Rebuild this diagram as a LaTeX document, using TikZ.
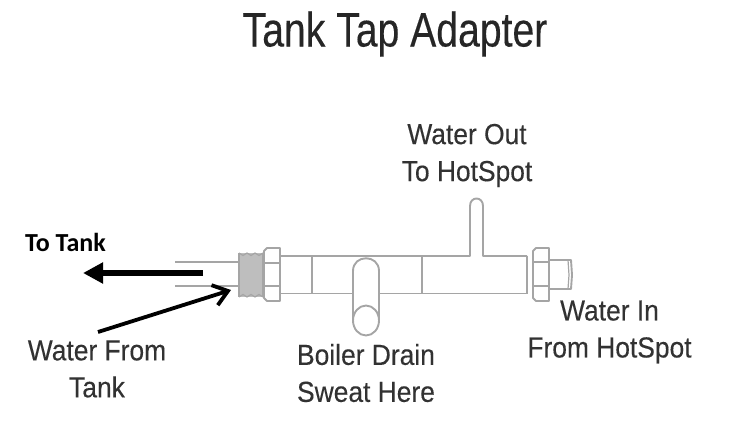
\documentclass[tikz,border=0pt]{standalone}
\usepackage{fontspec}
\setmainfont[FakeBold=0.25]{Liberation Sans}
\newfontfamily\boldlabel{Carlito}
\usetikzlibrary{arrows.meta}
\definecolor{pipe}{RGB}{165,165,165}
\definecolor{ink}{RGB}{50,50,50}
\definecolor{threadfill}{RGB}{190,190,190}
\tikzset{
  pipeline/.style={draw=pipe,line width=1.9pt,line join=round},
  lab/.style={text=ink,align=center,inner sep=0pt,font=\fontsize{29}{37}\selectfont,xscale=0.91},
  blackarrow/.style={draw=black,line width=6pt,-{Triangle[length=20pt,width=20pt]}},
  thinarrow/.style={draw=black,line width=3.8pt,-{Straight Barb[length=14pt,width=21pt,line width=3.8pt]}}
}
\begin{document}
\begin{tikzpicture}[x=1pt,y=-1pt]
\useasboundingbox (0,0) rectangle (735,436);
% left pipe
\draw[pipeline] (175,262) -- (239,262) (175,286) -- (239,286);
% thread
\path[fill=threadfill] (239,253) rectangle (263,297);
\draw[pipeline] (239,253) -- (239,297) (263,253) -- (263,297);
\draw[pipeline,line width=1.2pt] (239,253) -- (243,255.5) -- (247,253) -- (251,255.5) -- (255,253) -- (259,255.5) -- (263,253);
\draw[pipeline,line width=1.2pt] (239,297) -- (243,294.5) -- (247,297) -- (251,294.5) -- (255,297) -- (259,294.5) -- (263,297);
% left nut
\draw[pipeline] (267,248) -- (280,248) -- (280,301) -- (267,301) -- (264,298) -- (264,251) -- cycle;
\draw[pipeline] (264,263) -- (280,263) (264,286) -- (280,286);
% body with outlet
\draw[pipeline] (280,256) -- (470,256) -- (470,206)
  .. controls (470,196) and (483,196) .. (483,206) -- (483,256) -- (527,256);
\draw[pipeline] (280,293.5) -- (353,293.5) (379,293.5) -- (527,293.5);
\draw[pipeline] (312,256) -- (312,293.5) (422,256) -- (422,293.5) (527,256) -- (527,293.5);
% boiler drain
\draw[pipeline] (353,320) -- (353,271) .. controls (353,254) and (379,254) .. (379,271) -- (379,320);
\draw[pipeline] (366,320.5) ellipse[x radius=13,y radius=15];
% right nut
\draw[pipeline] (533,251) -- (536,248) -- (549,248) -- (549,301) -- (536,301) -- (533,298) -- cycle;
\draw[pipeline] (533,262) -- (549,262) (533,286) -- (549,286);
% stub
\draw[pipeline] (549,260) -- (571,260) -- (572,275) -- (571,289) -- (549,289);
\draw[pipeline,line width=1.2pt] (568,260) -- (569,275) -- (568,289);
% labels
\node[inner sep=0pt,text=black!85,font=\fontsize{44}{48}\selectfont,xscale=0.89,yscale=1.1] (title) at (395,34) {Tank Tap Adapter};
\node[lab] (out) at (467,155.5) {Water Out\\To HotSpot};
\node[lab] (inl) at (609.5,332) {Water In\\From HotSpot};
\node[lab] (drain) at (366,373) {Boiler Drain\\Sweat Here};
\node[lab] (from) at (97,369) {Water From\\Tank};
\node[inner sep=0pt,font=\boldlabel\bfseries\fontsize{26}{28}\selectfont,anchor=west] (tt) at (25,242) {To Tank};
% arrows
\coordinate (a1) at (203,273);
\coordinate (a2) at (83,273);
\coordinate (b1) at (98,332);
\coordinate (b2) at (231,290);
\draw[blackarrow] (a1) -- (a2);
\draw[thinarrow] (b1) -- (b2);
\end{tikzpicture}
\end{document}
